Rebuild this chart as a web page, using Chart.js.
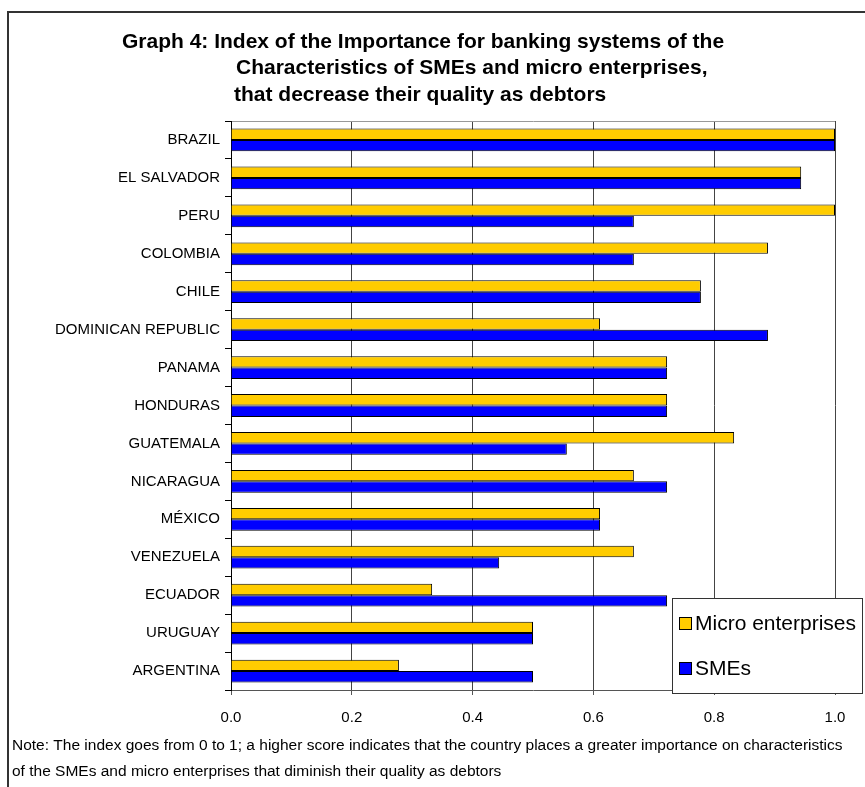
<!DOCTYPE html>
<html>
<head>
<meta charset="utf-8">
<script src="https://cdn.jsdelivr.net/npm/chart.js@4/dist/chart.umd.min.js"></script>
<style>
  html, body { margin: 0; padding: 0; background: #fff; }
  #wrap { width: 865px; height: 787px; }
</style>
</head>
<body>
<div id="wrap"><canvas id="c" width="865" height="787"></canvas></div>
<script>
// Countries, top to bottom
const categories = ['BRAZIL', 'EL SALVADOR', 'PERU', 'COLOMBIA', 'CHILE', 'DOMINICAN REPUBLIC',
  'PANAMA', 'HONDURAS', 'GUATEMALA', 'NICARAGUA', 'MÉXICO', 'VENEZUELA', 'ECUADOR',
  'URUGUAY', 'ARGENTINA'];

// Index values (0 to 1)
const microValues = [1.0, 0.944, 1.0, 0.889, 0.778, 0.611, 0.722, 0.722, 0.833, 0.667, 0.611, 0.667, 0.333, 0.5, 0.278];
const smeValues   = [1.0, 0.944, 0.667, 0.667, 0.778, 0.889, 0.722, 0.722, 0.556, 0.722, 0.611, 0.444, 0.722, 0.5, 0.5];

const seriesNames = ['Micro enterprises', 'SMEs'];

const titleLines = [
  'Graph 4: Index of the Importance for banking systems of the',
  'Characteristics of SMEs and micro enterprises,',
  'that decrease their quality as debtors'
];

const noteLines = [
  'Note: The index goes from 0 to 1; a higher score indicates that the country places a greater importance on characteristics',
  'of the SMEs and micro enterprises that diminish their quality as debtors'
];

const FONT = '"Liberation Sans", Arial, Helvetica, sans-serif';

// Frame, title lines and footnote around the plot
const decorPlugin = {
  id: 'decor',
  beforeDraw(chart) {
    const ctx = chart.ctx;
    ctx.save();
    ctx.fillStyle = '#fff';
    ctx.fillRect(0, 0, chart.width, chart.height);
    ctx.strokeStyle = '#333';
    ctx.lineWidth = 2;
    ctx.beginPath();
    ctx.moveTo(8, chart.height);
    ctx.lineTo(8, 12);
    ctx.lineTo(chart.width, 12);
    ctx.stroke();
    ctx.restore();
  },
  afterDraw(chart) {
    const ctx = chart.ctx;
    ctx.save();
    ctx.fillStyle = '#000';
    ctx.textBaseline = 'middle';
    ctx.textAlign = 'left';
    ctx.font = 'bold 21px ' + FONT;
    const tx = [122, 236, 234];
    const ty = [42, 68, 95];
    titleLines.forEach((t, i) => ctx.fillText(t, tx[i], ty[i]));

    ctx.font = '15.5px ' + FONT;
    noteLines.forEach((t, i) => ctx.fillText(t, 12, 746 + i * 26));
    ctx.restore();
  }
};

// Boxed legend sitting over the lower right of the plot
const boxLegendPlugin = {
  id: 'boxLegend',
  afterDatasetsDraw(chart) {
    const ctx = chart.ctx;
    const x = 672, y = 598, w = 190, h = 95;
    ctx.save();
    ctx.fillStyle = '#fff';
    ctx.fillRect(x, y, w, h);
    ctx.strokeStyle = '#333';
    ctx.lineWidth = 1;
    ctx.strokeRect(x + 0.5, y + 0.5, w, h);
    ctx.font = '21px ' + FONT;
    ctx.textBaseline = 'middle';
    chart.data.datasets.forEach((ds, i) => {
      const cy = y + 25 + i * 45;
      ctx.fillStyle = ds.backgroundColor;
      ctx.fillRect(x + 7, cy - 6, 12, 12);
      ctx.strokeStyle = '#000';
      ctx.strokeRect(x + 7.5, cy - 5.5, 12, 12);
      ctx.fillStyle = '#000';
      ctx.fillText(ds.label, x + 23, cy + 1);
    });
    ctx.restore();
  }
};

new Chart(document.getElementById('c'), {
  type: 'bar',
  data: {
    labels: categories,
    datasets: [
      { label: seriesNames[0], data: microValues, backgroundColor: '#FFCC00',
        borderColor: '#000', borderWidth: 1, categoryPercentage: 0.6, barPercentage: 1.0 },
      { label: seriesNames[1], data: smeValues, backgroundColor: '#0000FF',
        borderColor: '#000', borderWidth: 1, categoryPercentage: 0.6, barPercentage: 1.0 }
    ]
  },
  options: {
    indexAxis: 'y',
    responsive: false,
    animation: false,
    devicePixelRatio: 1,
    layout: { padding: { left: 0, top: 121, right: 30, bottom: 0 } },
    plugins: {
      legend: { display: false },
      title: { display: false },
      tooltip: { enabled: false }
    },
    scales: {
      x: {
        min: 0, max: 1,
        ticks: {
          stepSize: 0.2,
          color: '#000',
          font: { family: FONT, size: 15 },
          padding: 14,
          callback: v => Number(v).toFixed(1)
        },
        grid: { color: '#444', lineWidth: 1, tickLength: 5, tickColor: '#555' },
        border: { color: '#555', width: 1 },
        afterFit(scale) { scale.height = 97; }
      },
      y: {
        ticks: {
          color: '#000',
          font: { family: FONT, size: 15 },
          padding: 5
        },
        grid: {
          offset: true,
          color: c => (c.index === 0 ? '#999' : 'rgba(0,0,0,0)'),
          tickColor: '#000',
          tickLength: 6,
          lineWidth: 1
        },
        border: { color: '#000', width: 1 },
        afterFit(scale) { scale.width = 231; }
      }
    }
  },
  plugins: [decorPlugin, boxLegendPlugin]
});
</script>
</body>
</html>
